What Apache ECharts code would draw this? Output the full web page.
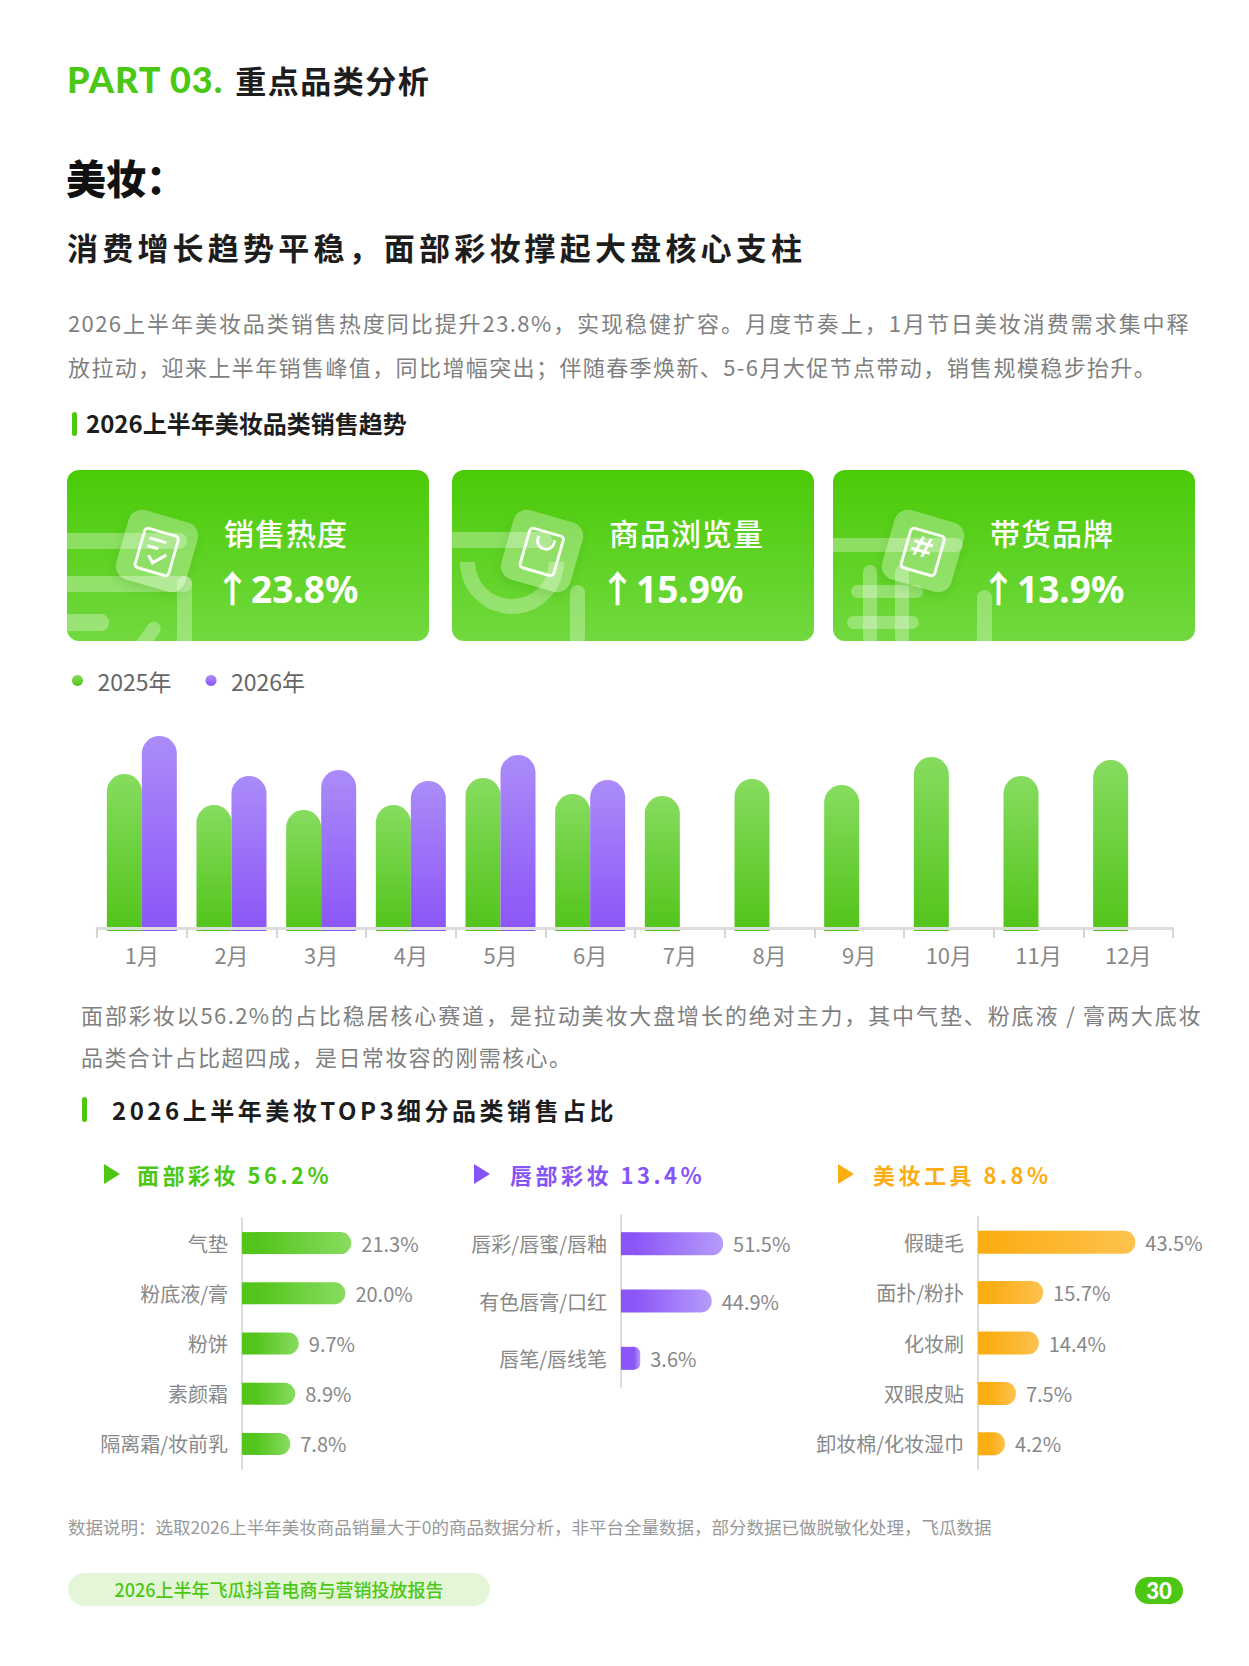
<!DOCTYPE html>
<html>
<head>
<meta charset="utf-8">
<title>美妆 - 重点品类分析</title>
<script src="https://cdn.jsdelivr.net/npm/echarts@6/dist/echarts.min.js"></script>
<style>
  body { margin: 0; background: #fff; }
  #page { position: relative; width: 1249px; height: 1666px; overflow: hidden;
    font-family: "Noto Sans CJK SC", "Noto Sans", sans-serif; }
  #chart { position: absolute; left: 0; top: 0; width: 1249px; height: 1666px; }
  .t { position: absolute; white-space: nowrap; }
  .part { left: 67px; top: 58px; line-height: 42px; font-size: 31px; font-weight: 700; color: #1d1d1d; letter-spacing: 1.5px; }
  .part b { font-family: Lato, "Noto Sans", sans-serif; font-weight: 900; font-size: 36px; color: #4cc714; margin-right: 12px; letter-spacing: 1px; }
  .h1 { left: 66px; top: 152px; line-height: 50px; font-size: 40px; font-weight: 900; color: #111; }
  .h2 { left: 67px; top: 227px; line-height: 40px; font-size: 31px; font-weight: 700; color: #1d1d1d; letter-spacing: 4.2px; }
  .p { font-size: 22px; color: #7f7f7f; line-height: 32px; letter-spacing: 1.4px; }
  .full { text-align: justify; text-align-last: justify; white-space: normal; }
  .sec { font-size: 24px; font-weight: 700; color: #1d1d1d; line-height: 32px; }
  .bar { position: absolute; background: #4cc714; border-radius: 3px; }
  .card { position: absolute; top: 470px; width: 362px; height: 171px; border-radius: 12px; overflow: hidden;
    background: linear-gradient(180deg, #4bcb08 0%, #71d93e 100%); }
  .card .ttl { left: 157px; top: 42px; line-height: 40px; font-size: 30px; font-weight: 500; color: #fff; letter-spacing: 1px; }
  .card .val { left: 147px; top: 96px; line-height: 46px; font-size: 37px; font-weight: 700; color: #fff;
    font-family: "Noto Sans", "Noto Sans CJK SC", sans-serif; }
  .dec { position: absolute; background: rgba(255,255,255,0.3); border-radius: 8px; }
  .tile { position: absolute; left: 54px; top: 45px; width: 72px; height: 72px; border-radius: 14px;
    background: rgba(255,255,255,0.3); transform: rotate(16deg); box-shadow: 0 4px 10px rgba(40,140,0,0.18); }
  .tile .in { position: absolute; left: 17px; top: 15px; width: 32px; height: 38px; border: 3px solid rgba(255,255,255,0.92); border-radius: 5px; }
  .sub { font-size: 22px; font-weight: 700; letter-spacing: 3.5px; line-height: 30px; }
  .tri { position: absolute; width: 0; height: 0; border-top: 10px solid transparent; border-bottom: 10px solid transparent; border-left: 16px solid; }
  .note { left: 68px; top: 1516px; font-size: 17.5px; color: #999; line-height: 22px; }
  .pill { position: absolute; left: 68px; top: 1573px; width: 422px; height: 33px; border-radius: 17px; background: #e3f7d8;
    text-align: center; line-height: 33px; font-size: 18px; font-weight: 500; color: #4cc714; }
  .badge { position: absolute; left: 1135px; top: 1577px; width: 48px; height: 27px; border-radius: 14px; background: #4cc714;
    text-align: center; line-height: 27px; font-size: 22px; font-weight: 900; color: #fff; font-family: Lato, "Noto Sans", sans-serif; }
</style>
</head>
<body>
<div id="page">
  <div id="chart"></div>

  <div class="t part"><b>PART 03.</b>重点品类分析</div>
  <div class="t h1">美妆：</div>
  <div class="t h2">消费增长趋势平稳，面部彩妆撑起大盘核心支柱</div>

  <div class="t p full" style="left:68px;top:306px;width:1122px;">2026上半年美妆品类销售热度同比提升23.8%，实现稳健扩容。月度节奏上，1月节日美妆消费需求集中释</div>
  <div class="t p" style="left:68px;top:350px;">放拉动，迎来上半年销售峰值，同比增幅突出；伴随春季焕新、5-6月大促节点带动，销售规模稳步抬升。</div>

  <div class="bar" style="left:72px;top:412px;width:5px;height:24px;"></div>
  <div class="t sec" style="left:86px;top:407px;">2026上半年美妆品类销售趋势</div>

  <!-- cards -->
  <div class="card" style="left:67px;">
    <div class="dec" style="left:-10px;top:63px;width:130px;height:16px;"></div>
    <div class="dec" style="left:-10px;top:106px;width:135px;height:16px;"></div>
    <div class="dec" style="left:110px;top:106px;width:15px;height:80px;"></div>
    <div class="dec" style="left:-10px;top:144px;width:52px;height:17px;"></div>
    <div class="dec" style="left:74px;top:150px;width:14px;height:34px;transform:rotate(35deg);"></div>
    <div class="tile"><div class="in"></div>
      <div style="position:absolute;left:25px;top:24px;width:18px;height:3px;background:#fff;border-radius:2px;"></div>
      <div style="position:absolute;left:25px;top:32px;width:12px;height:3px;background:#fff;border-radius:2px;"></div>
      <div style="position:absolute;left:29px;top:36px;width:14px;height:7px;border-left:3px solid #fff;border-bottom:3px solid #fff;transform:rotate(-45deg);"></div>
    </div>
    <div class="t ttl">销售热度</div>
    <div class="t val">↑23.8%</div>
  </div>
  <div class="card" style="left:452px;">
    <div class="dec" style="left:-10px;top:62px;width:110px;height:16px;"></div>
    <div style="position:absolute;left:8px;top:40px;width:74px;height:74px;border:15px solid rgba(255,255,255,0.3);border-radius:50%;border-top-color:transparent;border-right-color:transparent;transform:rotate(-45deg);"></div>
    <div class="dec" style="left:118px;top:115px;width:15px;height:80px;"></div>
    <div class="tile"><div class="in"></div>
      <div style="position:absolute;left:27px;top:22px;width:14px;height:10px;border:3px solid #fff;border-top:none;border-radius:0 0 10px 10px;"></div>
    </div>
    <div class="t ttl">商品浏览量</div>
    <div class="t val">↑15.9%</div>
  </div>
  <div class="card" style="left:833px;">
    <div class="dec" style="left:-10px;top:68px;width:140px;height:14px;"></div>
    <!-- 背景井号 -->
    <div class="dec" style="left:30px;top:95px;width:14px;height:90px;"></div>
    <div class="dec" style="left:62px;top:95px;width:14px;height:90px;"></div>
    <div class="dec" style="left:18px;top:115px;width:72px;height:13px;"></div>
    <div class="dec" style="left:14px;top:146px;width:72px;height:13px;"></div>
    <div class="dec" style="left:144px;top:120px;width:15px;height:80px;"></div>
    <div class="tile"><div class="in"></div>
      <div style="position:absolute;left:29px;top:22px;width:3px;height:20px;background:#fff;transform:skewX(-12deg);"></div>
      <div style="position:absolute;left:37px;top:22px;width:3px;height:20px;background:#fff;transform:skewX(-12deg);"></div>
      <div style="position:absolute;left:25px;top:27px;width:19px;height:3px;background:#fff;"></div>
      <div style="position:absolute;left:24px;top:35px;width:19px;height:3px;background:#fff;"></div>
    </div>
    <div class="t ttl">带货品牌</div>
    <div class="t val">↑13.9%</div>
  </div>

  <div class="t p full" style="left:81px;top:998px;width:1121px;">面部彩妆以56.2%的占比稳居核心赛道，是拉动美妆大盘增长的绝对主力，其中气垫、粉底液 / 膏两大底妆</div>
  <div class="t p" style="left:81px;top:1040px;">品类合计占比超四成，是日常妆容的刚需核心。</div>

  <div class="bar" style="left:82px;top:1097px;width:5px;height:25px;"></div>
  <div class="t sec" style="left:112px;top:1094px;letter-spacing:3.5px;">2026上半年美妆TOP3细分品类销售占比</div>

  <div class="tri" style="left:104px;top:1164px;color:#4cc714;"></div>
  <div class="t sub" style="left:137px;top:1159px;color:#4cc714;">面部彩妆 56.2%</div>
  <div class="tri" style="left:474px;top:1164px;color:#8654f6;"></div>
  <div class="t sub" style="left:510px;top:1159px;color:#8654f6;">唇部彩妆 13.4%</div>
  <div class="tri" style="left:838px;top:1164px;color:#fbad14;"></div>
  <div class="t sub" style="left:873px;top:1159px;color:#fbad14;">美妆工具 8.8%</div>

  <div class="t note">数据说明：选取2026上半年美妆商品销量大于0的商品数据分析，非平台全量数据，部分数据已做脱敏化处理，飞瓜数据</div>
  <div class="pill">2026上半年飞瓜抖音电商与营销投放报告</div>
  <div class="badge">30</div>
</div>

<script>
// 月度销售热度（相对指数，按柱高读取）
const months = ['1月', '2月', '3月', '4月', '5月', '6月', '7月', '8月', '9月', '10月', '11月', '12月']
const sales2025 = [157, 126, 121, 126, 153, 137, 135, 152, 146, 174, 155, 171]
const sales2026 = [195, 155, 161, 150, 176, 151]

// TOP3 细分品类占比
const faceCats = ['气垫', '粉底液/膏', '粉饼', '素颜霜', '隔离霜/妆前乳']
const faceShare = [21.3, 20.0, 9.7, 8.9, 7.8]
const lipCats = ['唇彩/唇蜜/唇釉', '有色唇膏/口红', '唇笔/唇线笔']
const lipShare = [51.5, 44.9, 3.6]
const toolCats = ['假睫毛', '面扑/粉扑', '化妆刷', '双眼皮贴', '卸妆棉/化妆湿巾']
const toolShare = [43.5, 15.7, 14.4, 7.5, 4.2]

const FONT = '"Noto Sans CJK SC", "Noto Sans", sans-serif'
const grad = (x2, y2, c0, c1) => new echarts.graphic.LinearGradient(0, 0, x2, y2, [
    { offset: 0, color: c0 }, { offset: 1, color: c1 }
])

// 横向条形图的布局
const shareGrids = [
    { left: 242, top: 1218, width: 226, height: 251, max: 50, barWidth: 22 },
    { left: 621, top: 1215, width: 173, height: 172, max: 100, barWidth: 23 },
    { left: 978, top: 1217, width: 199, height: 252, max: 60, barWidth: 23 }
]
const shareSets = [
    { cats: faceCats, vals: faceShare, c0: '#52c41a', c1: '#88dc60' },
    { cats: lipCats, vals: lipShare, c0: '#8b55f7', c1: '#b69cfa' },
    { cats: toolCats, vals: toolShare, c0: '#fbad14', c1: '#fec24f' }
]
// 条形圆头超出数值的像素
const capPx = 13

const chart = echarts.init(document.getElementById('chart'), null, { renderer: 'svg' })

const grids = [{ left: 97, top: 671, width: 1076, height: 260 }]
const xAxes = [{
    gridIndex: 0,
    type: 'category',
    data: months,
    offset: -3,
    z: 5,
    axisLine: { lineStyle: { color: '#dddddd', width: 3 } },
    axisTick: { show: true, length: 10, lineStyle: { color: '#d6d6d6', width: 2 } },
    axisLabel: { fontSize: 22, color: '#888', margin: 15, fontFamily: FONT }
}]
const yAxes = [{ gridIndex: 0, type: 'value', min: 0, max: 260, show: false }]
const series = [{
    name: '2025年',
    type: 'bar',
    xAxisIndex: 0,
    yAxisIndex: 0,
    data: sales2025,
    barWidth: 35,
    barGap: '0%',
    itemStyle: { color: grad(0, 1, '#86dc5f', '#52c41a'), borderRadius: [18, 18, 0, 0] }
}, {
    name: '2026年',
    type: 'bar',
    xAxisIndex: 0,
    yAxisIndex: 0,
    data: sales2026,
    barWidth: 35,
    itemStyle: { color: grad(0, 1, '#ab8cf9', '#8b55f7'), borderRadius: [18, 18, 0, 0] }
}]

shareSets.forEach((set, i) => {
    const g = shareGrids[i]
    const idx = i + 1
    const base = capPx * g.max / g.width
    grids.push({ left: g.left, top: g.top, width: g.width, height: g.height })
    xAxes.push({ gridIndex: idx, type: 'value', min: 0, max: g.max, show: false })
    yAxes.push({
        gridIndex: idx,
        type: 'category',
        data: set.cats,
        inverse: true,
        axisLine: { lineStyle: { color: '#dcdcdc', width: 2 } },
        axisTick: { length: 7, lineStyle: { color: '#dcdcdc', width: 2 } },
        axisLabel: { fontSize: 20, color: '#888', margin: 14, fontFamily: FONT }
    })
    series.push({
        type: 'bar',
        xAxisIndex: idx,
        yAxisIndex: idx,
        stack: 'share' + idx,
        silent: true,
        barWidth: g.barWidth,
        data: set.cats.map(() => base),
        itemStyle: { color: set.c0 }
    }, {
        type: 'bar',
        xAxisIndex: idx,
        yAxisIndex: idx,
        stack: 'share' + idx,
        barWidth: g.barWidth,
        data: set.vals,
        itemStyle: { color: grad(1, 0, set.c0, set.c1), borderRadius: [0, 11, 11, 0] },
        label: {
            show: true,
            position: 'right',
            distance: 10,
            formatter: p => p.value.toFixed(1) + '%',
            fontSize: 20,
            color: '#888',
            fontFamily: FONT
        }
    })
})

chart.setOption({
    animation: false,
    textStyle: { fontFamily: FONT },
    legend: {
        data: ['2025年', '2026年'],
        left: 67,
        top: 664,
        icon: 'circle',
        itemWidth: 30,
        itemHeight: 11,
        itemGap: 34,
        textStyle: { fontSize: 23, color: '#666', fontFamily: FONT }
    },
    color: ['#52c41a', '#8b55f7'],
    grid: grids,
    xAxis: xAxes,
    yAxis: yAxes,
    series
})
</script>
</body>
</html>
